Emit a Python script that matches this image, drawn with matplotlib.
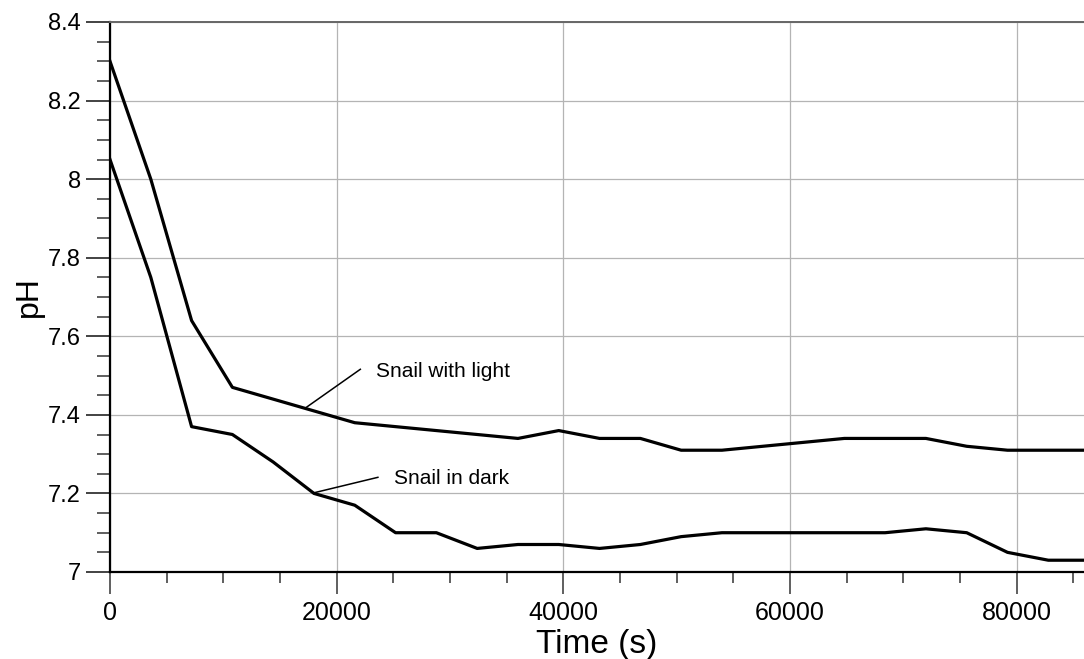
import matplotlib
matplotlib.use("Agg")
import matplotlib.pyplot as plt
from matplotlib.ticker import MultipleLocator

plt.rcParams['font.family'] = ['Liberation Sans', 'DejaVu Sans']

# Data (time in seconds, hourly readings)
time_s = [0, 3600, 7200, 10800, 14400, 18000, 21600, 25200, 28800, 32400,
          36000, 39600, 43200, 46800, 50400, 54000, 57600, 61200, 64800,
          68400, 72000, 75600, 79200, 82800, 86400]
ph_light = [8.30, 8.00, 7.64, 7.47, 7.44, 7.41, 7.38, 7.37, 7.36, 7.35,
            7.34, 7.36, 7.34, 7.34, 7.31, 7.31, 7.32, 7.33, 7.34,
            7.34, 7.34, 7.32, 7.31, 7.31, 7.31]
ph_dark = [8.05, 7.75, 7.37, 7.35, 7.28, 7.20, 7.17, 7.10, 7.10, 7.06,
           7.07, 7.07, 7.06, 7.07, 7.09, 7.10, 7.10, 7.10, 7.10,
           7.10, 7.11, 7.10, 7.05, 7.03, 7.03]
x_ticks = [0, 20000, 40000, 60000, 80000]
y_ticks = [7, 7.2, 7.4, 7.6, 7.8, 8, 8.2, 8.4]
y_ticklabels = ['7', '7.2', '7.4', '7.6', '7.8', '8', '8.2', '8.4']

W, H = 1084, 659
fig = plt.figure(figsize=(W / 100, H / 100), dpi=100)
left, right, top, bottom = 110 / W, 1.0, 22 / H, 572 / H
ax = fig.add_axes([left, 1 - bottom, right - left, bottom - top])

ax.plot(time_s, ph_light, color='black', lw=2.3, solid_joinstyle='round', zorder=3, clip_on=True)
ax.plot(time_s, ph_dark, color='black', lw=2.3, solid_joinstyle='round', zorder=3, clip_on=True)

ax.set_xlim(0, 85950)
ax.set_ylim(7, 8.4)
ax.set_xticks(x_ticks)
ax.set_xticklabels([str(v) for v in x_ticks])
ax.set_yticks(y_ticks)
ax.set_yticklabels(y_ticklabels)
ax.xaxis.set_minor_locator(MultipleLocator(5000))
ax.yaxis.set_minor_locator(MultipleLocator(0.05))

ax.grid(True, which='major', color='#b4b4b4', lw=0.9, zorder=0)
ax.set_axisbelow(True)

ax.tick_params(axis='y', which='major', direction='out', length=17, width=1.2,
               color='#222222', labelsize=17, pad=4)
ax.tick_params(axis='y', which='minor', direction='out', length=9.5, width=1.1,
               color='#333333')
ax.tick_params(axis='x', which='major', direction='out', length=16, width=1.2,
               color='#444444', labelsize=18, pad=5)
ax.tick_params(axis='x', which='minor', direction='out', length=8, width=1.1,
               color='#333333')

for s in ['left', 'bottom']:
    ax.spines[s].set_color('black')
    ax.spines[s].set_linewidth(1.6)
ax.spines['top'].set_color('#666666')
ax.spines['top'].set_linewidth(1.4)
ax.spines['right'].set_visible(False)

ax.set_xlabel('Time (s)', fontsize=24, labelpad=3)
ax.set_ylabel('pH', fontsize=23, labelpad=3)

# Annotations
light_line_x = [17320, 22090]
light_line_y = [7.419, 7.516]
dark_line_x = [18050, 23640]
dark_line_y = [7.202, 7.241]
ax.plot(light_line_x, light_line_y, color='black', lw=1.1, zorder=4)
ax.plot(dark_line_x, dark_line_y, color='black', lw=1.1, zorder=4)
ax.text(23500, 7.51, 'Snail with light', fontsize=15, ha='left', va='center')
ax.text(25100, 7.239, 'Snail in dark', fontsize=15, ha='left', va='center')

fig.savefig('out.png', dpi=100)
